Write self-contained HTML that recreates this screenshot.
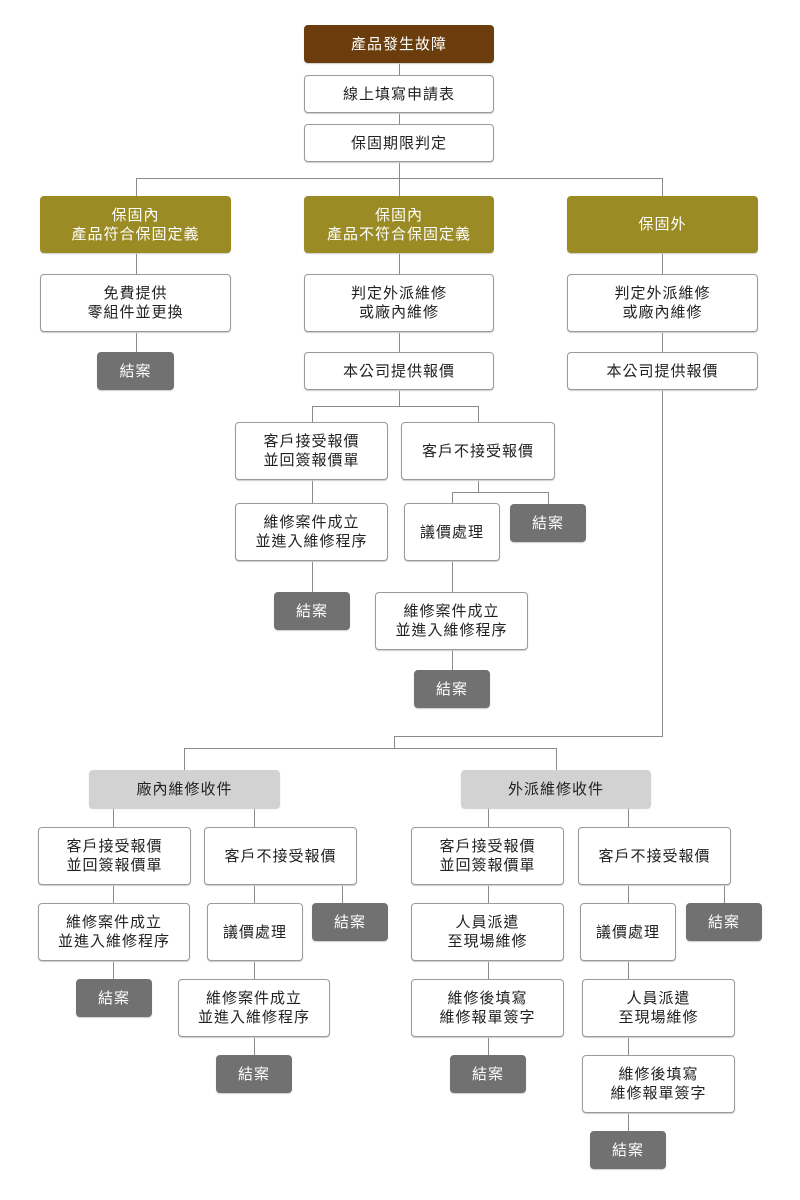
<!DOCTYPE html>
<html><head><meta charset="utf-8"><style>
body{margin:0;width:800px;height:1200px;background:#fff;position:relative;overflow:hidden;font-family:"Liberation Sans","Noto Sans CJK TC",sans-serif}
.b{position:absolute;box-sizing:border-box;border:1px solid #9a9a9a;border-radius:4px;background:#fff;display:flex;align-items:center;justify-content:center;text-align:center;font-size:15px;letter-spacing:1px;line-height:19px;color:#222;box-shadow:0 1px 1px #ccc}
.br{background:#6b3c0c;border-color:#6b3c0c;color:#fff}
.ol{background:#9a8b25;border-color:#9a8b25;color:#fff}
.g{background:#717171;border-color:#717171;color:#fff}
.lg{background:#d2d2d2;border-color:#d2d2d2;color:#222}
.h,.v{position:absolute;background:#8a8a8a}
.h{height:1px}.v{width:1px}
</style></head><body>
<div class="v" style="left:399px;top:63px;height:12px"></div>
<div class="v" style="left:399px;top:113px;height:11px"></div>
<div class="v" style="left:399px;top:162px;height:34px"></div>
<div class="h" style="left:136px;top:178px;width:527px"></div>
<div class="v" style="left:136px;top:178px;height:18px"></div>
<div class="v" style="left:662px;top:178px;height:18px"></div>
<div class="v" style="left:136px;top:253px;height:100px"></div>
<div class="v" style="left:399px;top:253px;height:153px"></div>
<div class="v" style="left:662px;top:253px;height:484px"></div>
<div class="h" style="left:312px;top:406px;width:167px"></div>
<div class="v" style="left:312px;top:406px;height:187px"></div>
<div class="v" style="left:478px;top:406px;height:87px"></div>
<div class="h" style="left:452px;top:492px;width:97px"></div>
<div class="v" style="left:548px;top:492px;height:12px"></div>
<div class="v" style="left:452px;top:492px;height:180px"></div>
<div class="h" style="left:394px;top:736px;width:269px"></div>
<div class="v" style="left:394px;top:736px;height:13px"></div>
<div class="h" style="left:184px;top:748px;width:373px"></div>
<div class="v" style="left:184px;top:748px;height:22px"></div>
<div class="v" style="left:556px;top:748px;height:22px"></div>
<div class="v" style="left:113px;top:808px;height:172px"></div>
<div class="v" style="left:254px;top:808px;height:248px"></div>
<div class="v" style="left:342px;top:885px;height:18px"></div>
<div class="v" style="left:488px;top:808px;height:248px"></div>
<div class="v" style="left:628px;top:808px;height:324px"></div>
<div class="v" style="left:724px;top:885px;height:18px"></div>
<div class="b br" style="left:304px;top:25px;width:190px;height:38px">產品發生故障</div>
<div class="b" style="left:304px;top:75px;width:190px;height:38px">線上填寫申請表</div>
<div class="b" style="left:304px;top:124px;width:190px;height:38px">保固期限判定</div>
<div class="b ol" style="left:40px;top:196px;width:191px;height:57px">保固內<br>產品符合保固定義</div>
<div class="b ol" style="left:304px;top:196px;width:190px;height:57px">保固內<br>產品不符合保固定義</div>
<div class="b ol" style="left:567px;top:196px;width:191px;height:57px">保固外</div>
<div class="b" style="left:40px;top:274px;width:191px;height:58px">免費提供<br>零組件並更換</div>
<div class="b" style="left:304px;top:274px;width:190px;height:58px">判定外派維修<br>或廠內維修</div>
<div class="b" style="left:567px;top:274px;width:191px;height:58px">判定外派維修<br>或廠內維修</div>
<div class="b g" style="left:97px;top:352px;width:77px;height:38px">結案</div>
<div class="b" style="left:304px;top:352px;width:190px;height:38px">本公司提供報價</div>
<div class="b" style="left:567px;top:352px;width:191px;height:38px">本公司提供報價</div>
<div class="b" style="left:235px;top:422px;width:153px;height:58px">客戶接受報價<br>並回簽報價單</div>
<div class="b" style="left:401px;top:422px;width:154px;height:58px">客戶不接受報價</div>
<div class="b" style="left:235px;top:503px;width:153px;height:58px">維修案件成立<br>並進入維修程序</div>
<div class="b" style="left:404px;top:503px;width:96px;height:58px">議價處理</div>
<div class="b g" style="left:510px;top:504px;width:76px;height:38px">結案</div>
<div class="b g" style="left:274px;top:592px;width:76px;height:38px">結案</div>
<div class="b" style="left:375px;top:592px;width:153px;height:58px">維修案件成立<br>並進入維修程序</div>
<div class="b g" style="left:414px;top:670px;width:76px;height:38px">結案</div>
<div class="b lg" style="left:89px;top:770px;width:191px;height:38px">廠內維修收件</div>
<div class="b lg" style="left:461px;top:770px;width:190px;height:38px">外派維修收件</div>
<div class="b" style="left:38px;top:827px;width:153px;height:58px">客戶接受報價<br>並回簽報價單</div>
<div class="b" style="left:204px;top:827px;width:153px;height:58px">客戶不接受報價</div>
<div class="b" style="left:411px;top:827px;width:153px;height:58px">客戶接受報價<br>並回簽報價單</div>
<div class="b" style="left:578px;top:827px;width:153px;height:58px">客戶不接受報價</div>
<div class="b" style="left:38px;top:903px;width:152px;height:58px">維修案件成立<br>並進入維修程序</div>
<div class="b" style="left:207px;top:903px;width:96px;height:58px">議價處理</div>
<div class="b g" style="left:312px;top:903px;width:76px;height:38px">結案</div>
<div class="b" style="left:411px;top:903px;width:153px;height:58px">人員派遣<br>至現場維修</div>
<div class="b" style="left:580px;top:903px;width:96px;height:58px">議價處理</div>
<div class="b g" style="left:686px;top:903px;width:76px;height:38px">結案</div>
<div class="b g" style="left:76px;top:979px;width:76px;height:38px">結案</div>
<div class="b" style="left:178px;top:979px;width:152px;height:58px">維修案件成立<br>並進入維修程序</div>
<div class="b" style="left:411px;top:979px;width:153px;height:58px">維修後填寫<br>維修報單簽字</div>
<div class="b" style="left:582px;top:979px;width:153px;height:58px">人員派遣<br>至現場維修</div>
<div class="b g" style="left:216px;top:1055px;width:76px;height:38px">結案</div>
<div class="b g" style="left:450px;top:1055px;width:76px;height:38px">結案</div>
<div class="b" style="left:582px;top:1055px;width:153px;height:58px">維修後填寫<br>維修報單簽字</div>
<div class="b g" style="left:590px;top:1131px;width:76px;height:38px">結案</div>
</body></html>
